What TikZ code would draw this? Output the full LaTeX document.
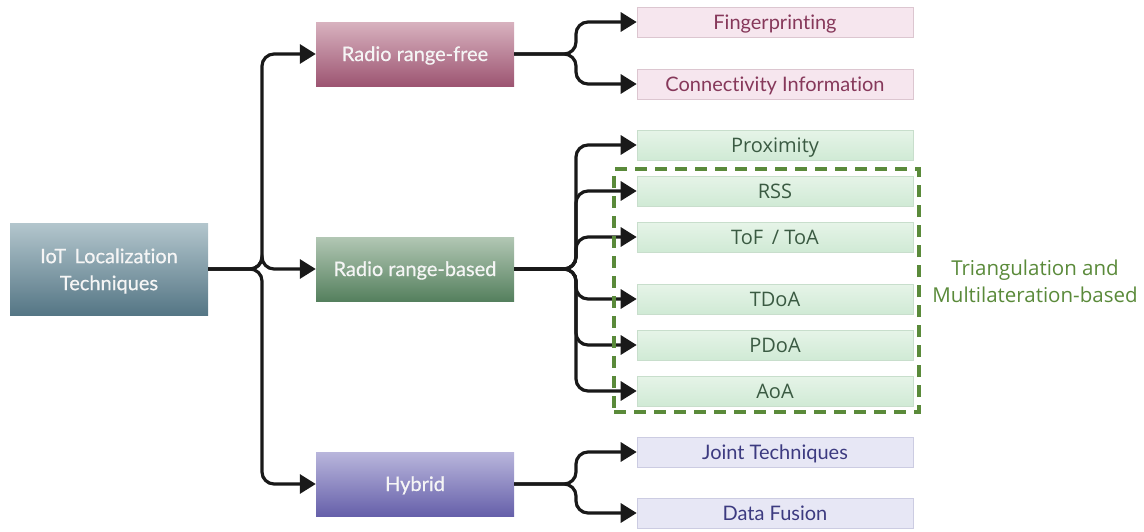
\documentclass[tikz,border=0pt]{standalone}
\usepackage{fontspec}
\setmainfont{Lato}[Ligatures=NoCommon]
\newfontfamily\latomid{Lato}[FakeBold=0.6,Ligatures=NoCommon]
\newfontfamily\opensans{Open Sans}
\usetikzlibrary{arrows.meta}
\definecolor{rootT}{HTML}{B3C6CD}
\definecolor{rootB}{HTML}{557685}
\definecolor{freeT}{HTML}{D8B2BF}
\definecolor{freeB}{HTML}{9D5572}
\definecolor{basedT}{HTML}{B2C7B4}
\definecolor{basedB}{HTML}{55805E}
\definecolor{hybT}{HTML}{B9B6DC}
\definecolor{hybB}{HTML}{6660AA}
\definecolor{pinkFill}{HTML}{F6E6EE}
\definecolor{pinkLine}{HTML}{DCC6D0}
\definecolor{pinkText}{HTML}{86385A}
\definecolor{greenT}{HTML}{E6F4E8}
\definecolor{greenB}{HTML}{D0EAD5}
\definecolor{greenLine}{HTML}{C8DECC}
\definecolor{greenText}{HTML}{3A5A42}
\definecolor{purpFill}{HTML}{E7E7F5}
\definecolor{purpLine}{HTML}{CCCCE2}
\definecolor{purpText}{HTML}{3C3A80}
\definecolor{dashGreen}{HTML}{5A8A3A}
\begin{document}
\begin{tikzpicture}[x=1pt,y=-1pt,
  mainbox/.style={minimum width=198pt,minimum height=64pt,inner sep=0pt},
  maintext/.style={text=white!96!black,font=\latomid\fontsize{20}{27}\selectfont},
  leafbox/.style={minimum width=276pt,minimum height=30pt,inner sep=0pt,
    draw,line width=0.6pt},
  pinkleaf/.style={leafbox,fill=pinkFill,draw=pinkLine},
  greenleaf/.style={leafbox,top color=greenT,bottom color=greenB,draw=greenLine},
  purpleaf/.style={leafbox,fill=purpFill,draw=purpLine},
  leaftext/.style={anchor=base,inner sep=0pt},
  conn/.style={draw=black!90,line width=3.2pt,rounded corners=12pt,
    -{Triangle[length=16pt,width=19pt]}}]
\useasboundingbox (0,0) rectangle (1144,531);

% first level boxes
\node[mainbox,minimum height=92pt,top color=rootT,bottom color=rootB] (root) at (109,269) {};
\node[mainbox,top color=freeT,bottom color=freeB] (free) at (415,54) {};
\node[mainbox,top color=basedT,bottom color=basedB] (based) at (415,269) {};
\node[mainbox,top color=hybT,bottom color=hybB] (hyb) at (415,484) {};
\node[maintext,align=center] (rootlabel) at (109,271) {IoT\ \,Localization\\Techniques};
\node[maintext,anchor=base] (freelabel) at (415,61) {Radio range-free};
\node[maintext,anchor=base] (basedlabel) at (415,276) {Radio range-based};
\node[maintext,anchor=base] (hyblabel) at (415,491) {Hybrid};

% leaves
\node[pinkleaf] (fp) at (775,22) {};
\node[pinkleaf] (ci) at (775,84) {};
\node[greenleaf] (prox) at (775,145) {};
\node[greenleaf] (rss) at (775,191) {};
\node[greenleaf] (tof) at (775,237) {};
\node[greenleaf] (tdoa) at (775,299) {};
\node[greenleaf] (pdoa) at (775,345) {};
\node[greenleaf] (aoa) at (775,391) {};
\node[purpleaf] (joint) at (775,452) {};
\node[purpleaf] (fus) at (775,513) {};
\begin{scope}[font=\fontsize{20}{24}\selectfont]
\node[leaftext,text=pinkText] (fpl) at (775,29) {Fingerprinting};
\node[leaftext,text=pinkText] (cil) at (775,91) {Connectivity Information};
\node[leaftext,text=purpText] (jointl) at (775,459) {Joint Techniques};
\node[leaftext,text=purpText] (fusl) at (775,520) {Data Fusion};
\end{scope}
\begin{scope}[font=\opensans\fontsize{20}{24}\selectfont]
\node[leaftext,text=greenText] (proxl) at (775,152) {Proximity};
\node[leaftext,text=greenText] (rssl) at (775,198) {RSS};
\node[leaftext,text=greenText] (tofl) at (775,244) {ToF \,/ ToA};
\node[leaftext,text=greenText] (tdoal) at (775,306) {TDoA};
\node[leaftext,text=greenText] (pdoal) at (775,352) {PDoA};
\node[leaftext,text=greenText] (aoal) at (775,398) {AoA};
\end{scope}

% junction points
\coordinate (j0) at (262,269);
\coordinate (j1) at (576,54);
\coordinate (j2) at (576,269);
\coordinate (j3) at (576,484);

% connectors
\foreach \t in {free,based,hyb}
  \draw[conn] (root.east) -- (j0) |- (\t.west);
\foreach \t in {fp,ci}
  \draw[conn] (free.east) -- (j1) |- (\t.west);
\foreach \t in {prox,rss,tof,tdoa,pdoa,aoa}
  \draw[conn] (based.east) -- (j2) |- (\t.west);
\foreach \t in {joint,fus}
  \draw[conn] (hyb.east) -- (j3) |- (\t.west);

% grouping frame
\node[draw=dashGreen,line width=3.2pt,dash pattern=on 12pt off 8pt,
  minimum width=305pt,minimum height=243pt,inner sep=0pt] (grp) at (766.5,290.5) {};
\node[text=dashGreen,font=\opensans\fontsize{20.5}{27}\selectfont,align=center,anchor=center]
  (grplabel) at (1035,281) {Triangulation and\\Multilateration-based};
\end{tikzpicture}
\end{document}
